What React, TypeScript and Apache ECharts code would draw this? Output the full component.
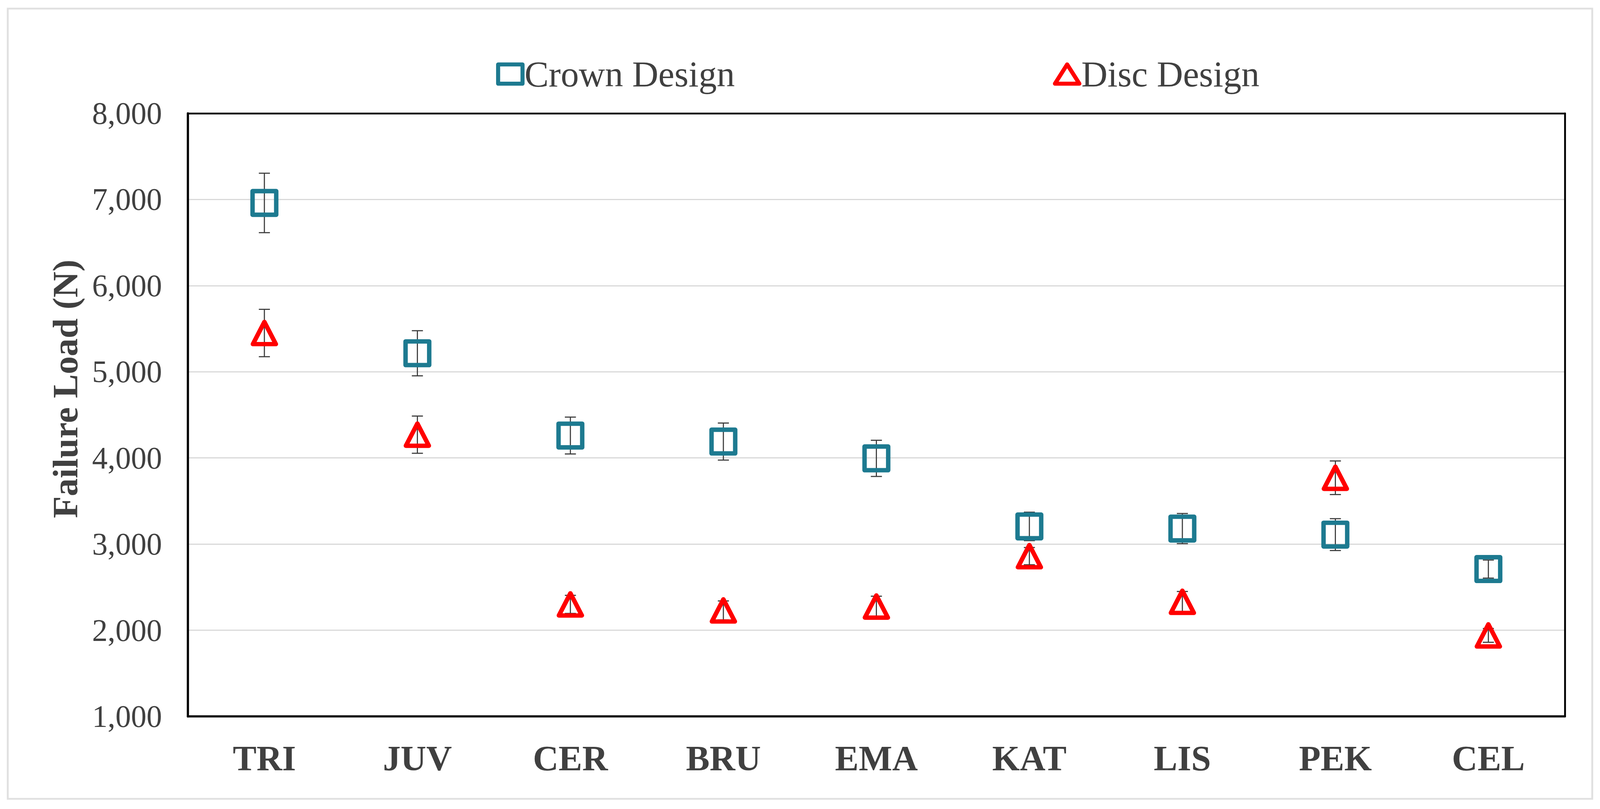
import React, { useEffect, useRef } from "react";
import * as echarts from "echarts";

const categories = ["TRI", "JUV", "CER", "BRU", "EMA", "KAT", "LIS", "PEK", "CEL"];
const crownMean = [6960, 5215, 4260, 4190, 3995, 3205, 3180, 3110, 2710];
const crownSD = [345, 262, 214, 215, 210, 165, 175, 185, 105];
const discMean = [5450, 4270, 2300, 2230, 2275, 2860, 2330, 3770, 1940];
const discSD = [275, 216, 105, 110, 120, 100, 120, 195, 80];
const yTicks = { min: 1000, max: 8000, interval: 1000 };

const TEAL = "#1d7a90";
const RED = "#ff0000";
const FONT = "'Liberation Serif', 'Times New Roman', serif";

function errData(mean: number[], sd: number[]) {
  return mean.map((m, i) => [i, m - sd[i], m + sd[i]]);
}

function errSeries(name: string, mean: number[], sd: number[], s: number) {
  return {
    type: "custom",
    name,
    z: 1,
    silent: true,
    encode: { x: 0, y: [1, 2] },
    data: errData(mean, sd),
    renderItem: (params: any, api: any) => {
      const x = api.value(0);
      const lo = api.coord([x, api.value(1)]);
      const hi = api.coord([x, api.value(2)]);
      const hw = 15 * s;
      const st = { stroke: "#3c3c3c", lineWidth: 3 * s };
      return {
        type: "group",
        children: [
          { type: "line", shape: { x1: lo[0], y1: lo[1], x2: hi[0], y2: hi[1] }, style: st },
          { type: "line", shape: { x1: hi[0] - hw, y1: hi[1], x2: hi[0] + hw, y2: hi[1] }, style: st },
          { type: "line", shape: { x1: lo[0] - hw, y1: lo[1], x2: lo[0] + hw, y2: lo[1] }, style: st },
        ],
      };
    },
  };
}

export default function App() {
  const ref = useRef<HTMLDivElement>(null);
  useEffect(() => {
    const el = ref.current;
    if (!el) return;
    const W = el.clientWidth || 4326;
    const H = el.clientHeight || 2070;
    const sx = W / 4326;
    const sy = H / 2070;
    const s = Math.min(sx, sy);
    const chart = echarts.init(el, null, { renderer: "svg", width: W, height: H });
    const legendText = { fontFamily: FONT, fontSize: 98 * s, color: "#404040" };
    const frameLine = { show: true, lineStyle: { color: "#000000", width: 5 * s } };
    chart.setOption({
      animation: false,
      backgroundColor: "#ffffff",
      grid: {
        left: 508 * sx,
        right: 95 * sx,
        top: 290 * sy,
        bottom: 237 * sy,
        show: false,
        containLabel: false,
      },
      legend: {
        left: 1336 * sx,
        top: 138 * sy,
        itemWidth: 66 * s,
        itemHeight: 52 * s,
        itemGap: 860 * sx,
        selectedMode: false,
        textStyle: legendText,
        data: [
          {
            name: "Crown Design",
            icon: "rect",
            textStyle: legendText,
            itemStyle: { color: "rgba(0,0,0,0)", borderColor: TEAL, borderWidth: 11 * s, borderJoin: "round", opacity: 1 },
          },
          {
            name: "Disc Design",
            icon: "triangle",
            textStyle: legendText,
            itemStyle: { color: "rgba(0,0,0,0)", borderColor: RED, borderWidth: 11 * s, borderJoin: "round", opacity: 1 },
          },
        ],
      },
      xAxis: [
        {
          type: "category",
          data: categories,
          boundaryGap: true,
          axisLine: { show: true, lineStyle: { color: "#000000", width: 6 * s } },
          axisTick: { show: false },
          axisLabel: {
            margin: 62 * sy,
            fontFamily: FONT,
            fontSize: 96 * s,
            fontWeight: "bold",
            color: "#404040",
          },
          splitLine: { show: false },
        },
        {
          type: "category",
          position: "top",
          data: categories,
          boundaryGap: true,
          z: 5,
          axisLine: frameLine,
          axisTick: { show: false },
          axisLabel: { show: false },
          splitLine: { show: false },
        },
      ],
      yAxis: [
        {
          type: "value",
          min: yTicks.min,
          max: yTicks.max,
          interval: yTicks.interval,
          axisLine: { show: true, lineStyle: { color: "#000000", width: 6 * s } },
          axisTick: { show: false },
          axisLabel: {
            margin: 70 * sx,
            fontFamily: FONT,
            fontSize: 84 * s,
            color: "#404040",
            formatter: (v: number) => v.toLocaleString("en-US"),
          },
          splitLine: { show: true, lineStyle: { color: "#d9d9d9", width: 3 * s } },
        },
        {
          type: "value",
          position: "right",
          min: yTicks.min,
          max: yTicks.max,
          interval: yTicks.interval,
          z: 5,
          axisLine: frameLine,
          axisTick: { show: false },
          axisLabel: { show: false },
          splitLine: { show: false },
        },
      ],
      graphic: [
        {
          type: "rect",
          silent: true,
          z: -10,
          shape: { x: 21 * sx, y: 22 * sy, width: 4284 * sx, height: 2022 * sy },
          style: { fill: "none", stroke: "#e0e0e0", lineWidth: 5 * s },
        },
        {
          type: "text",
          x: 176 * sx,
          y: 995 * sy,
          rotation: Math.PI / 2,
          style: {
            text: "Failure Load (N)",
            fontFamily: FONT,
            fontSize: 97 * s,
            fontWeight: "bold",
            fill: "#404040",
            align: "center",
            verticalAlign: "middle",
          },
        },
      ],
      series: [
        errSeries("crownErr", crownMean, crownSD, s),
        errSeries("discErr", discMean, discSD, s),
        {
          type: "scatter",
          name: "Crown Design",
          z: 3,
          symbol: "rect",
          symbolSize: 64 * s,
          data: crownMean,
          itemStyle: { color: "rgba(0,0,0,0)", borderColor: TEAL, borderWidth: 12 * s, borderJoin: "round", opacity: 1 },
        },
        {
          type: "scatter",
          name: "Disc Design",
          z: 4,
          symbol: "triangle",
          symbolSize: [62 * s, 60 * s],
          data: discMean,
          itemStyle: { color: "rgba(0,0,0,0)", borderColor: RED, borderWidth: 12 * s, borderJoin: "round", opacity: 1 },
        },
      ],
    });
    return () => chart.dispose();
  }, []);
  return (
    <div
      ref={ref}
      style={{ position: "fixed", left: 0, top: 0, width: "100vw", height: "100vh" }}
    />
  );
}
